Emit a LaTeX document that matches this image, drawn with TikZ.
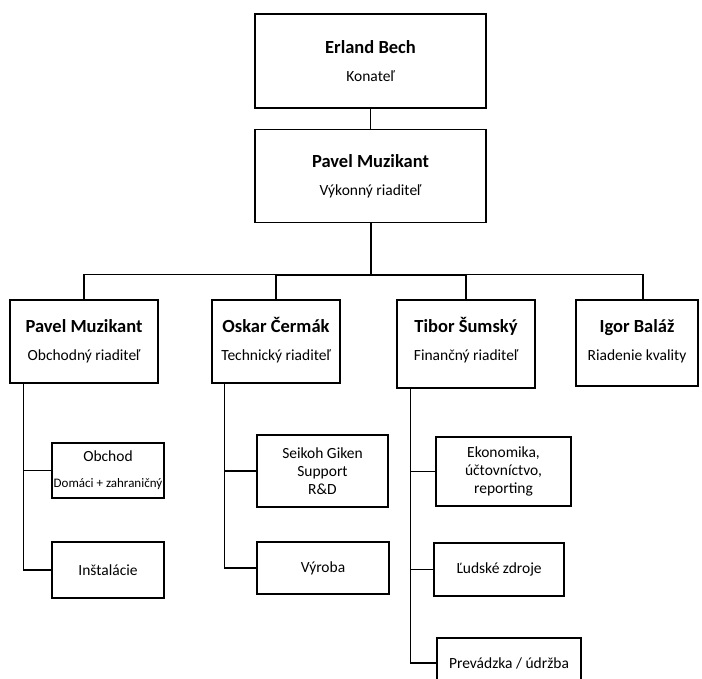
\documentclass[tikz,border=0pt]{standalone}
\usepackage{fontspec}
\setmainfont{Carlito}
\usetikzlibrary{positioning}
\tikzset{head/.style = {draw, line width=1.3pt, align=center, inner sep=0pt,
                        font=\fontsize{15.5}{28}\selectfont},
         dept/.style = {draw, line width=2pt, align=center, inner sep=0pt,
                        font=\fontsize{15.5}{18}\selectfont},
         link/.style = {line width=1.2pt}}
\newcommand{\meno}[1]{{\bfseries\fontsize{18.5}{28}\selectfont #1}}

\begin{document}
\begin{tikzpicture}[x=1pt, y=-1pt]
      \useasboundingbox (0,0) rectangle (702,679);

      % vedenie
      \node [head, minimum width=231, minimum height=94] (erland) at (370.5,61) {\meno{Erland Bech}\\Konateľ};
      \node [head, minimum width=231, minimum height=93] (ceo) at (370.5,176) {\meno{Pavel Muzikant}\\Výkonný riaditeľ};

      % riaditelia
      \node [head, minimum width=148, minimum height=83, text height=41pt, text depth=4pt] (obchodny) at (84,341.5) {\meno{Pavel Muzikant}\\Obchodný riaditeľ};
      \node [head, minimum width=128, minimum height=83, text height=41pt, text depth=4pt] (technicky) at (276,341.5) {\meno{Oskar Čermák}\\Technický riaditeľ};
      \node [head, minimum width=138, minimum height=88, text height=41pt, text depth=9pt] (financny) at (466,344) {\meno{Tibor Šumský}\\Finančný riaditeľ};
      \node [head, minimum width=122, minimum height=86, text height=41pt, text depth=7pt] (kvalita) at (637,343) {\meno{Igor Baláž}\\Riadenie kvality};

      % oddelenia
      \node [dept, minimum width=112, minimum height=55, font=\fontsize{15.5}{26}\selectfont] (obchod) at (108,470.5)
            {Obchod\\{\fontsize{13}{26}\selectfont Domáci + zahraničný}};
      \node [dept, minimum width=112, minimum height=56] (instalacie) at (108,570) {Inštalácie};
      \node [dept, minimum width=131, minimum height=72] (seikoh) at (322.5,471) {Seikoh Giken\\Support\\R\&D};
      \node [dept, minimum width=132, minimum height=52] (vyroba) at (323,568) {Výroba};
      \node [dept, minimum width=135, minimum height=69] (ekonomika) at (503.5,471.5) {Ekonomika,\\účtovníctvo,\\reporting};
      \node [dept, minimum width=130, minimum height=53] (ludske) at (499,569.5) {Ľudské zdroje};
      \node [dept, minimum width=144, minimum height=50] (prevadzka) at (509,663) {Prevádzka / údržba};

      \draw [link] (erland) -- (ceo);
      \draw [link, line width=2pt] (ceo.south) -- ++(0,51) coordinate (bus);
      \draw [link] (bus) -| (obchodny.north);
      \draw [link] ([yshift=-1]bus) -| (technicky.north);
      \draw [link] ([yshift=-1]bus) -| (financny.north);
      \draw [link] (bus) -| ([xshift=6]kvalita.north);

      \draw [link] ([xshift=14.5]obchodny.south west) |- (obchod.west);
      \draw [link] ([xshift=14.5]obchodny.south west) |- (instalacie.west);
      \draw [link] ([xshift=13]technicky.south west) |- (seikoh.west);
      \draw [link] ([xshift=13]technicky.south west) |- (vyroba.west);
      \draw [link] ([xshift=14]financny.south west) |- (ekonomika.west);
      \draw [link] ([xshift=14]financny.south west) |- (ludske.west);
      \draw [link] ([xshift=14]financny.south west) |- (prevadzka.west);
\end{tikzpicture}
\end{document}
